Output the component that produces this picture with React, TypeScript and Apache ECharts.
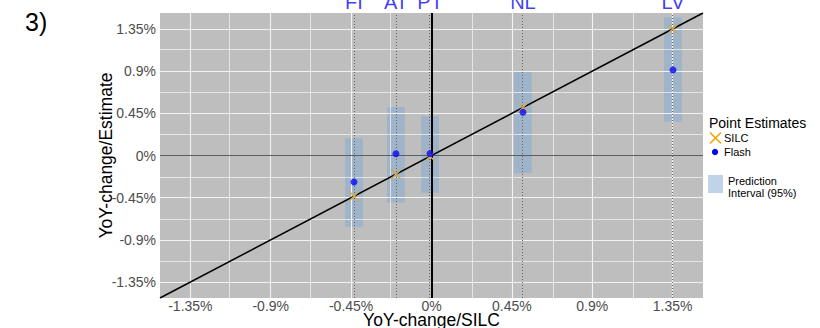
import React, { useEffect, useRef } from 'react';
import * as echarts from 'echarts';

// ---- data ----
const countries = ['FI', 'AT', 'PT', 'NL', 'LV'];
const silc = [-0.434, -0.199, -0.008, 0.512, 1.352];
const flash = [-0.283, 0.018, 0.021, 0.461, 0.912];
const piLow = [-0.76, -0.5, -0.397, -0.19, 0.36];
const piHigh = [0.183, 0.517, 0.421, 0.894, 1.474];
const tickValues = [-1.35, -0.9, -0.45, 0, 0.45, 0.9, 1.35];
const tickLabels = ['-1.35%', '-0.9%', '-0.45%', '0%', '0.45%', '0.9%', '1.35%'];
const minorValues = [-1.125, -0.675, -0.225, 0.225, 0.675, 1.125];
const axisMin = -1.52;
const axisMax = 1.52;
const barHalfWidth = 0.05;

const FONT = 'Liberation Sans, Arial, Helvetica, sans-serif';
const BAR_FILL = 'rgba(130,170,211,0.5)';
const ORANGE = '#F5A300';
const ORANGE_UNDER_BAR = '#D6A752';
const BLUE = '#0A0AF5';

const fmt = (v: number) => {
  const i = tickValues.findIndex((t) => Math.abs(t - v) < 1e-9);
  return i >= 0 ? tickLabels[i] : '';
};

const noLabel = { show: false };
const mlBase = { silent: true, symbol: ['none', 'none'], label: noLabel, emphasis: { disabled: true }, animation: false };

// X-shaped marker as two filled thin polygons around (cx, cy)
const crossPolys = (cx: number, cy: number, h: number, w: number) => {
  const k = w / (2 * Math.SQRT2);
  return [
    [[cx - h + k, cy - h - k], [cx + h + k, cy + h - k], [cx + h - k, cy + h + k], [cx - h - k, cy - h + k]],
    [[cx + h + k, cy - h + k], [cx - h + k, cy + h + k], [cx - h - k, cy + h - k], [cx + h - k, cy - h - k]],
  ];
};

export default function App() {
  const ref = useRef<HTMLDivElement>(null);
  useEffect(() => {
    if (!ref.current) return;
    const chart = echarts.init(ref.current, undefined, { renderer: 'svg' });
    const axisCommon = {
      type: 'value',
      min: axisMin,
      max: axisMax,
      axisLine: { show: false },
      axisTick: { show: true, length: 3, customValues: tickValues, lineStyle: { color: '#333', width: 1 } },
      axisLabel: { customValues: tickValues, formatter: fmt, color: '#4D4D4D', fontSize: 14, fontFamily: FONT },
      splitLine: { show: false },
      nameLocation: 'middle',
      nameMoveOverlap: false,
    };
    const legendCross = crossPolys(715.5, 138, 5.5, 1.6);
    chart.setOption({
      animation: false,
      textStyle: { fontFamily: FONT },
      grid: {
        left: 160, right: 117, top: 13, bottom: 30,
        outerBoundsMode: 'none', containLabel: false,
        show: true, backgroundColor: '#BEBEBE', borderWidth: 0,
      },
      xAxis: {
        ...axisCommon,
        axisLabel: { ...axisCommon.axisLabel, margin: 2, lineHeight: 12 },
        name: 'YoY-change/SILC',
        nameGap: 15,
        nameTextStyle: { color: '#000', fontSize: 17.5, fontFamily: FONT, lineHeight: 13 },
      },
      yAxis: {
        ...axisCommon,
        axisLabel: { ...axisCommon.axisLabel, margin: 4 },
        name: 'YoY-change/Estimate',
        nameGap: 45,
        nameTextStyle: { color: '#000', fontSize: 17.5, fontFamily: FONT, lineHeight: 18 },
      },
      graphic: [
        { type: 'text', left: 25, top: 9, style: { text: '3)', fontSize: 25, fill: '#000', fontFamily: FONT } },
        { type: 'text', x: 709, y: 116, style: { text: 'Point Estimates', fontSize: 14, fill: '#000', fontFamily: FONT } },
        { type: 'polygon', shape: { points: legendCross[0] }, style: { fill: ORANGE } },
        { type: 'polygon', shape: { points: legendCross[1] }, style: { fill: ORANGE } },
        { type: 'text', x: 724, y: 138, style: { text: 'SILC', fontSize: 11, fill: '#000', fontFamily: FONT, verticalAlign: 'middle' } },
        { type: 'circle', shape: { cx: 715, cy: 152, r: 3.2 }, style: { fill: BLUE } },
        { type: 'text', x: 724, y: 152, style: { text: 'Flash', fontSize: 11, fill: '#000', fontFamily: FONT, verticalAlign: 'middle' } },
        { type: 'rect', shape: { x: 708, y: 175, width: 15, height: 18 }, style: { fill: BAR_FILL } },
        { type: 'text', x: 728, y: 175, style: { text: 'Prediction\nInterval (95%)', fontSize: 11, lineHeight: 12, fill: '#000', fontFamily: FONT } },
      ],
      series: [
        // grid lines
        {
          type: 'line', data: [], z: 1,
          markLine: {
            ...mlBase,
            lineStyle: { color: '#FFFFFF', width: 0.6, type: 'solid' },
            data: [...minorValues.map((v) => ({ xAxis: v })), ...minorValues.map((v) => ({ yAxis: v }))],
          },
        },
        {
          type: 'line', data: [], z: 1,
          markLine: {
            ...mlBase,
            lineStyle: { color: '#F2F2F2', width: 1.1, type: 'solid' },
            data: [...tickValues.map((v) => ({ xAxis: v })), ...tickValues.map((v) => ({ yAxis: v }))],
          },
        },
        // dotted country lines
        {
          type: 'line', data: [], z: 2,
          markLine: {
            ...mlBase,
            lineStyle: { color: '#666666', width: 1, type: [1, 2] },
            data: silc.map((v) => ({ xAxis: v })),
          },
        },
        // prediction intervals
        {
          type: 'custom', z: 4,
          encode: { x: 0, y: [1, 2] },
          data: silc.map((v, i) => [v, piLow[i], piHigh[i]]),
          renderItem: (params: any, api: any) => {
            const x = api.value(0);
            const lo = api.value(1);
            const hi = api.value(2);
            const p1 = api.coord([x - barHalfWidth, hi]);
            const p2 = api.coord([x + barHalfWidth, lo]);
            return {
              type: 'rect',
              shape: { x: p1[0], y: p1[1], width: p2[0] - p1[0], height: p2[1] - p1[1] },
              style: { fill: BAR_FILL },
            };
          },
          silent: true,
        },
        // y = 0 line
        {
          type: 'line', data: [], z: 5,
          markLine: { ...mlBase, lineStyle: { color: '#5E5E5E', width: 1.2, type: 'solid' }, data: [{ yAxis: 0 }] },
        },
        // 45-degree line
        {
          type: 'line', z: 5, showSymbol: false, silent: true,
          data: [[axisMin, axisMin], [axisMax, axisMax]],
          lineStyle: { color: '#000', width: 1.5 },
        },
        // x = 0 line
        {
          type: 'line', data: [], z: 6,
          markLine: { ...mlBase, lineStyle: { color: '#000', width: 2, type: 'solid' }, data: [{ xAxis: 0 }] },
        },
        // SILC crosses (coloured as seen through the interval bars)
        {
          type: 'custom', z: 10, silent: true, clip: false,
          encode: { x: 0, y: 1 },
          data: silc.map((v) => [v, v]),
          renderItem: (params: any, api: any) => {
            const c = api.coord([api.value(0), api.value(1)]);
            const polys = crossPolys(c[0], c[1], 5, 1.5);
            return {
              type: 'group',
              children: [
                { type: 'polygon', shape: { points: polys[0] }, style: { fill: ORANGE_UNDER_BAR } },
                { type: 'polygon', shape: { points: polys[1] }, style: { fill: ORANGE_UNDER_BAR } },
              ],
            };
          },
        },
        // Flash dots
        {
          type: 'scatter', z: 11, symbolSize: 7, silent: true,
          itemStyle: { color: BLUE },
          data: flash.map((v, i) => [silc[i], v]),
        },
        // country labels
        {
          type: 'scatter', z: 12, symbolSize: 1, silent: true, clip: false,
          itemStyle: { color: 'transparent' },
          data: countries.map((c, i) => ({ name: c, value: [silc[i], axisMax] })),
          label: { show: true, position: 'top', distance: 1, formatter: '{b}', color: BLUE, fontSize: 20, fontFamily: FONT },
        },
      ],
    });
    return () => chart.dispose();
  }, []);
  return <div ref={ref} style={{ position: 'absolute', left: 0, top: 0, width: 820, height: 328 }} />;
}
